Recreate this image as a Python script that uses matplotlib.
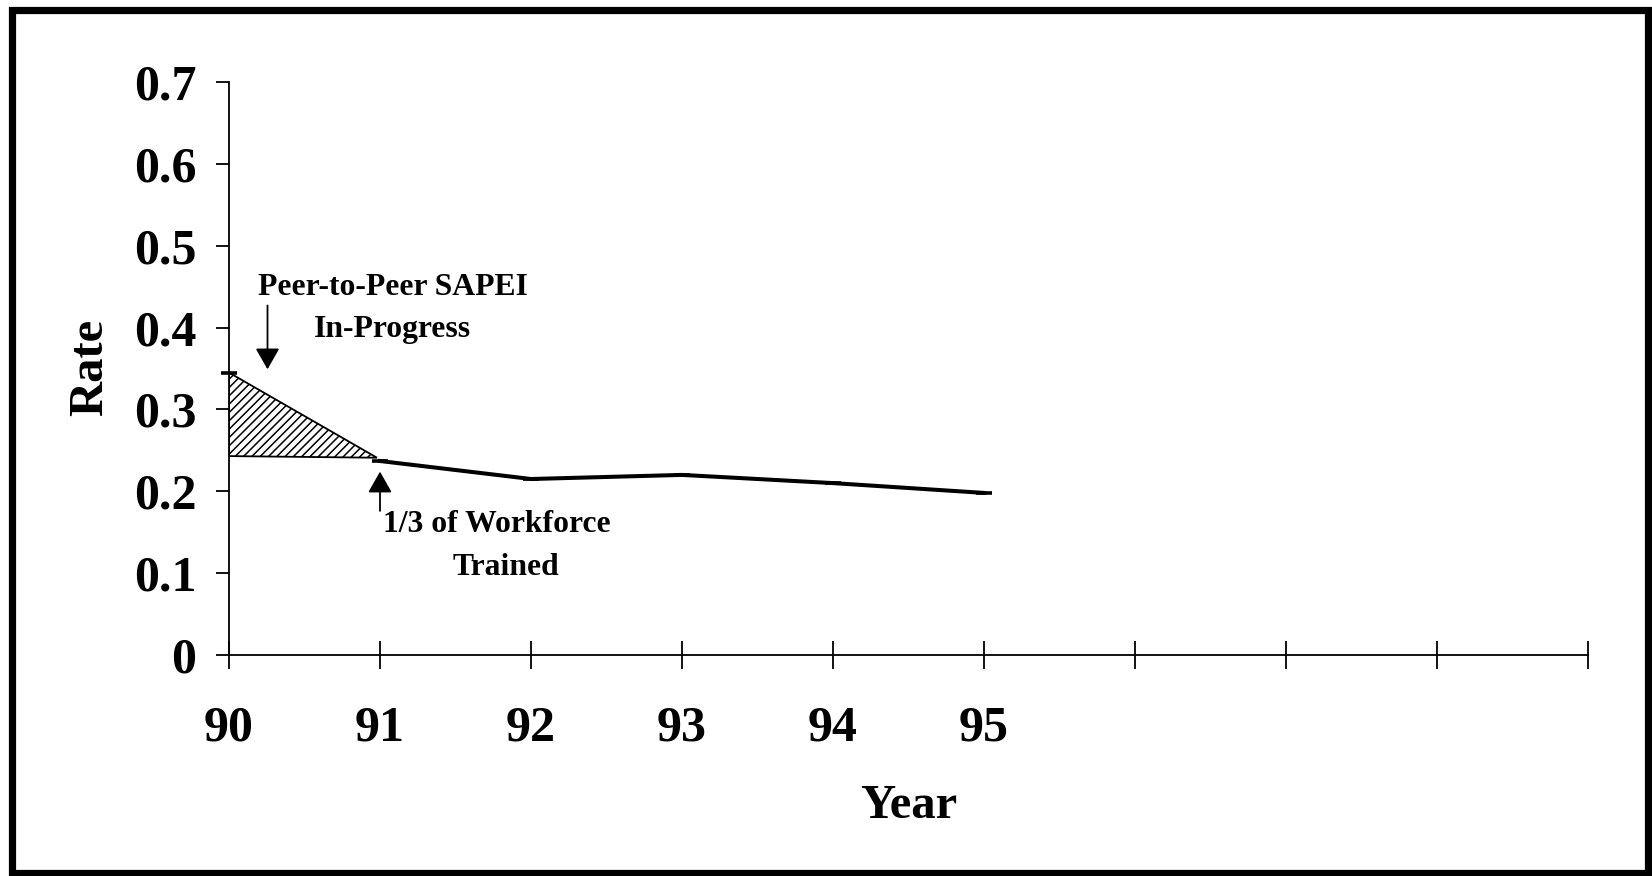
import matplotlib
matplotlib.use("Agg")
import matplotlib.pyplot as plt
from matplotlib.patches import Polygon, Rectangle

# Data
years = [90, 91, 92, 93, 94, 95]
rate = [0.345, 0.237, 0.215, 0.220, 0.210, 0.198]
xtick_years = [90, 91, 92, 93, 94, 95, 96, 97, 98, 99]
xtick_labels = ["90", "91", "92", "93", "94", "95", "", "", "", ""]
yticks = [0, 0.1, 0.2, 0.3, 0.4, 0.5, 0.6, 0.7]
ytick_labels = ["0", "0.1", "0.2", "0.3", "0.4", "0.5", "0.6", "0.7"]
hatch_x = [90, 90.98, 90]
hatch_y = [0.345, 0.241, 0.243]

plt.rcParams['font.family'] = ['Liberation Serif', 'DejaVu Serif']
plt.rcParams['font.weight'] = 'bold'
plt.rcParams['hatch.linewidth'] = 1.1

fig = plt.figure(figsize=(16.52, 8.76), dpi=100)
fig.patch.set_facecolor('white')

# outer frame
fig.patches.append(Rectangle((12 / 1652, 1 - 873 / 876), (1648 - 12) / 1652, (873 - 9.5) / 876,
                             transform=fig.transFigure, fill=False, edgecolor='black',
                             linewidth=5.2, zorder=0))

left, right = 229 / 1652, 1588 / 1652
bottom, top = 1 - 655 / 876, 1 - 82 / 876
ax = fig.add_axes([left, bottom, right - left, top - bottom])
ax.set_xlim(90, 99)
ax.set_ylim(0, 0.7)

for s in ['top', 'right']:
    ax.spines[s].set_visible(False)
for s in ['left', 'bottom']:
    ax.spines[s].set_linewidth(1.3)
    ax.spines[s].set_color('black')

ax.set_xticks(xtick_years)
ax.set_xticklabels(xtick_labels)
ax.set_yticks(yticks)
ax.set_yticklabels(ytick_labels)
ax.tick_params(axis='x', direction='inout', length=20, width=1.3, pad=26.5,
               labelsize=36)
ax.tick_params(axis='y', direction='out', length=9.5, width=1.3, pad=14,
               labelsize=36)
for lab in ax.get_xticklabels() + ax.get_yticklabels():
    lab.set_fontweight('bold')

# hatched region
poly = Polygon(list(zip(hatch_x, hatch_y)), closed=True, facecolor='white',
               edgecolor='black', hatch='////', linewidth=1.3, zorder=2)
ax.add_patch(poly)

# main line
ax.plot(years[1:], rate[1:], color='black', linewidth=2.9, zorder=3,
        solid_joinstyle='round', clip_on=False)
ax.plot(years, rate, linestyle='none', marker='_', markersize=11,
        markeredgewidth=2.6, color='black', zorder=4, clip_on=False)

# labels
ax.set_xlabel("Year", fontsize=35, fontweight='bold')
ax.xaxis.set_label_coords(0.5, -0.2635)
ax.xaxis.label.set_va('center')
ax.set_ylabel("Rate", fontsize=35, fontweight='bold')
ax.yaxis.set_label_coords(-0.1023, 0.5026)
ax.yaxis.label.set_va('center')

# annotations
fs = 22.8
ax.text(91.086, 0.449, "Peer-to-Peer SAPEI", fontsize=fs, fontweight='bold',
        ha='center', va='center')
ax.text(91.08, 0.398, "In-Progress", fontsize=fs, fontweight='bold',
        ha='center', va='center')
ax.text(91.775, 0.159, "1/3 of Workforce", fontsize=fs, fontweight='bold',
        ha='center', va='center')
ax.text(91.834, 0.107, "Trained", fontsize=fs, fontweight='bold',
        ha='center', va='center')

arrow_style = '-|>,head_length=0.65,head_width=0.37'
ax.annotate('', xy=(90.255, 0.349), xytext=(90.255, 0.427),
            arrowprops=dict(arrowstyle=arrow_style, color='black', lw=1.3,
                            shrinkA=0, shrinkB=0, mutation_scale=20))
ax.annotate('', xy=(91.0, 0.224), xytext=(91.0, 0.176),
            arrowprops=dict(arrowstyle=arrow_style, color='black', lw=1.3,
                            shrinkA=0, shrinkB=0, mutation_scale=20))

fig.savefig("out.png", dpi=100)
